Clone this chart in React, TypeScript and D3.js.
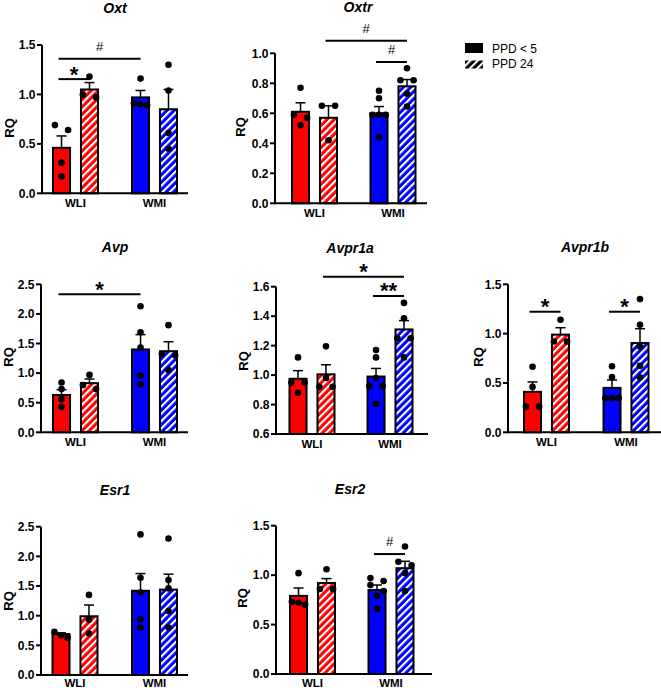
import React from "react";
import * as d3 from "d3";

// ---------- DATA ----------
const groups = ["WLI", "WMI"];
const conditions = ["PPD < 5", "PPD 24"];

// bar order: WLI PPD<5, WLI PPD24, WMI PPD<5, WMI PPD24
const oxtMeans = [0.46, 1.05, 0.97, 0.85];
const oxtSem = [0.12, 0.07, 0.07, 0.2];
const oxtPoints = [[0.69, 0.64, 0.31, 0.17], [1.18, 1.0, 0.97], [1.16, 0.9, 0.89, 0.91], [1.3, 1.04, 0.61, 0.45]];

const oxtrMeans = [0.61, 0.57, 0.6, 0.78];
const oxtrSem = [0.06, 0.08, 0.045, 0.045];
const oxtrPoints = [[0.77, 0.59, 0.57, 0.52], [0.65, 0.65, 0.42], [0.75, 0.7, 0.59, 0.59, 0.59, 0.44], [0.9, 0.82, 0.82, 0.73, 0.645]];

const avpMeans = [0.63, 0.83, 1.4, 1.37];
const avpSem = [0.09, 0.07, 0.25, 0.16];
const avpPoints = [[0.84, 0.73, 0.56, 0.43], [0.97, 0.8, 0.73], [2.13, 1.69, 1.43, 0.96, 0.81], [1.81, 1.32, 1.3, 1.05]];

const avpr1aMeans = [0.975, 1.005, 0.99, 1.31];
const avpr1aSem = [0.055, 0.065, 0.055, 0.06];
const avpr1aPoints = [[1.12, 0.95, 0.95, 0.88], [1.195, 0.98, 0.92, 0.92], [1.17, 1.12, 0.98, 0.925, 0.925, 0.805], [1.49, 1.385, 1.25, 1.25, 1.12]];

const avpr1bMeans = [0.41, 0.99, 0.45, 0.905];
const avpr1bSem = [0.1, 0.07, 0.08, 0.145];
const avpr1bPoints = [[0.665, 0.46, 0.26, 0.26], [1.14, 0.92, 0.92], [0.67, 0.56, 0.345, 0.345, 0.345], [1.35, 1.09, 0.87, 0.675, 0.555]];

const esr1Means = [0.69, 0.99, 1.42, 1.44];
const esr1Sem = [0.02, 0.19, 0.29, 0.26];
const esr1Points = [[0.73, 0.67, 0.63], [1.35, 0.93, 0.7], [2.37, 1.64, 1.39, 0.94, 0.8], [2.3, 1.6, 1.46, 1.08, 0.8]];

const esr2Means = [0.79, 0.92, 0.85, 1.07];
const esr2Sem = [0.08, 0.045, 0.05, 0.07];
const esr2Points = [[1.02, 0.73, 0.72, 0.7], [1.06, 0.86, 0.86], [0.97, 0.94, 0.9, 0.84, 0.79, 0.66], [1.29, 1.135, 1.1, 1.02, 0.84]];

// significance brackets: from bar index, to bar index, height (RQ), label
const oxtSig = [{ from: 0, to: 2, y: 1.36, label: "#" }, { from: 0, to: 1, y: 1.155, label: "*" }];
const oxtrSig = [{ from: 1, to: 3, y: 1.084, label: "#" }, { from: 2, to: 3, y: 0.942, label: "#" }];
const avpSig = [{ from: 0, to: 2, y: 2.33, label: "*" }];
const avpr1aSig = [{ from: 1, to: 3, y: 1.668, label: "*" }, { from: 2, to: 3, y: 1.537, label: "**" }];
const avpr1bSig = [{ from: 0, to: 1, y: 1.222, label: "*" }, { from: 2, to: 3, y: 1.222, label: "*" }];
const esr1Sig: { from: number; to: number; y: number; label: string }[] = [];
const esr2Sig = [{ from: 2, to: 3, y: 1.213, label: "#" }];

const oxtDomain = [0, 1.5], oxtStep = 0.5;
const oxtrDomain = [0, 1.0], oxtrStep = 0.2;
const avpDomain = [0, 2.5], avpStep = 0.5;
const avpr1aDomain = [0.6, 1.6], avpr1aStep = 0.2;
const avpr1bDomain = [0, 1.5], avpr1bStep = 0.5;
const esr1Domain = [0, 2.5], esr1Step = 0.5;
const esr2Domain = [0, 1.5], esr2Step = 0.5;

// ---------- LAYOUT ----------
const RED = "#ff0000";
const BLUE = "#0000ff";
const FONT = "'Liberation Sans', Arial, Helvetica, sans-serif";

const panels = [
  { name: "Oxt", means: oxtMeans, sem: oxtSem, points: oxtPoints, sig: oxtSig, domain: oxtDomain, step: oxtStep,
    x0: 42, x1: 188, yB: 193.3, yT: 45, centers: [75.5, 154.5], title: [115, 13.3], rq: [9, 128] },
  { name: "Oxtr", means: oxtrMeans, sem: oxtrSem, points: oxtrPoints, sig: oxtrSig, domain: oxtrDomain, step: oxtrStep,
    x0: 275, x1: 427, yB: 203.3, yT: 53.3, centers: [314.5, 393], title: [358, 11.7], rq: [240, 127] },
  { name: "Avp", means: avpMeans, sem: avpSem, points: avpPoints, sig: avpSig, domain: avpDomain, step: avpStep,
    x0: 41, x1: 188, yB: 432.3, yT: 284.3, centers: [75.5, 154.5], title: [115, 252], rq: [8, 357] },
  { name: "Avpr1a", means: avpr1aMeans, sem: avpr1aSem, points: avpr1aPoints, sig: avpr1aSig, domain: avpr1aDomain, step: avpr1aStep,
    x0: 276, x1: 428, yB: 434, yT: 286.7, centers: [312, 390], title: [350, 253], rq: [243, 361] },
  { name: "Avpr1b", means: avpr1bMeans, sem: avpr1bSem, points: avpr1bPoints, sig: avpr1bSig, domain: avpr1bDomain, step: avpr1bStep,
    x0: 508, x1: 661, yB: 432.3, yT: 284.3, centers: [546.5, 626], title: [585, 252], rq: [478, 357] },
  { name: "Esr1", means: esr1Means, sem: esr1Sem, points: esr1Points, sig: esr1Sig, domain: esr1Domain, step: esr1Step,
    x0: 41, x1: 188, yB: 675, yT: 526.7, centers: [75, 154.5], title: [115, 495], rq: [8, 601] },
  { name: "Esr2", means: esr2Means, sem: esr2Sem, points: esr2Points, sig: esr2Sig, domain: esr2Domain, step: esr2Step,
    x0: 276, x1: 432, yB: 674, yT: 525.7, centers: [312.5, 391], title: [350, 494], rq: [242, 598] },
];

function swarm(values: number[], y: (v: number) => number) {
  const sorted = values.slice().sort((a, b) => b - a);
  const rows: { py0: number; vals: number[] }[] = [];
  sorted.forEach((v) => {
    const py = y(v);
    const last = rows[rows.length - 1];
    if (last && Math.abs(py - last.py0) < 6) last.vals.push(v);
    else rows.push({ py0: py, vals: [v] });
  });
  const out: { v: number; dx: number }[] = [];
  const s = 6.6;
  rows.forEach((r) => {
    const n = r.vals.length;
    r.vals.forEach((v, i) => {
      let dx = 0;
      if (n === 2) dx = i === 0 ? -s : s;
      else if (n > 2) dx = (i - (n - 1) / 2) * s;
      out.push({ v, dx });
    });
  });
  return out;
}

function Panel({ p }: { p: any }) {
  const y = d3.scaleLinear().domain(p.domain).range([p.yB, p.yT]);
  const gx = d3.scalePoint<string>().domain(groups).range(p.centers);
  const inner = d3.scaleBand<string>().domain(conditions).range([-23.5, 23.5]).paddingInner(0.32);
  const bw = inner.bandwidth();
  const ticks = d3.range(p.domain[0], p.domain[1] + p.step / 2, p.step);
  const fmt = d3.format(".1f");
  const bars = p.means.map((m: number, i: number) => {
    const g = groups[Math.floor(i / 2)];
    const c = conditions[i % 2];
    const left = (gx(g) as number) + (inner(c) as number);
    return { m, i, g, c, left, cx: left + bw / 2, color: g === "WLI" ? RED : BLUE, hatched: c === "PPD 24" };
  });
  const labelY = Math.min(p.yB + 13.5, 686.5);
  return (
    <g>
      <text x={p.title[0]} y={p.title[1]} textAnchor="middle" fontFamily={FONT} fontWeight="bold" fontStyle="italic" fontSize={14}>
        {p.name}
      </text>
      <text transform={`translate(${p.rq[0]},${p.rq[1]}) rotate(-90)`} textAnchor="middle" dominantBaseline="central"
        fontFamily={FONT} fontWeight="bold" fontSize={13}>RQ</text>
      {bars.map((b: any) => (
        <rect key={"b" + b.i} x={b.left + 1} y={y(b.m)} width={bw - 2} height={p.yB - y(b.m)}
          fill={b.hatched ? `url(#hatch-${b.g})` : b.color} stroke="#000" strokeWidth={2} />
      ))}
      {bars.map((b: any) => {
        const top = y(b.m + p.sem[b.i]);
        return (
          <g key={"e" + b.i} stroke="#000" strokeWidth={1.5}>
            <line x1={b.cx} x2={b.cx} y1={y(b.m)} y2={top} />
            <line x1={b.cx - 5} x2={b.cx + 5} y1={top} y2={top} />
          </g>
        );
      })}
      {bars.map((b: any) =>
        swarm(p.points[b.i], y).map((pt, j) => (
          <circle key={"p" + b.i + "-" + j} cx={b.cx + pt.dx} cy={y(pt.v)} r={3.3} fill="#000" />
        ))
      )}
      {/* axes */}
      <line x1={p.x0} x2={p.x0} y1={p.yT} y2={p.yB} stroke="#000" strokeWidth={2} />
      <line x1={p.x0 - 1} x2={p.x1} y1={p.yB} y2={p.yB} stroke="#000" strokeWidth={2} />
      {ticks.map((t: number) => (
        <g key={"t" + t}>
          <line x1={p.x0 - 5} x2={p.x0} y1={y(t)} y2={y(t)} stroke="#000" strokeWidth={2} />
          <text x={p.x0 - 6.5} y={y(t)} dy="0.36em" textAnchor="end" fontFamily={FONT} fontWeight="bold" fontSize={12}>
            {fmt(t)}
          </text>
        </g>
      ))}
      {groups.map((g) => (
        <text key={g} x={gx(g)} y={labelY} textAnchor="middle" fontFamily={FONT} fontWeight="bold" fontSize={11.5}>
          {g}
        </text>
      ))}
      {p.sig.map((s: any, k: number) => {
        const xa = bars[s.from].cx - 3;
        const xb = bars[s.to].cx;
        const ly = y(s.y);
        const isHash = s.label === "#";
        return (
          <g key={"s" + k}>
            <line x1={xa} x2={xb} y1={ly} y2={ly} stroke="#000" strokeWidth={2} />
            <text x={(xa + xb) / 2} y={isHash ? ly - 7.8 : ly + 2.4} textAnchor="middle" fontFamily={FONT}
              fontWeight={isHash ? "normal" : "bold"} fontSize={isHash ? 13 : 22}>
              {s.label}
            </text>
          </g>
        );
      })}
    </g>
  );
}

export default function App() {
  return (
    <svg width={661} height={688} style={{ position: "absolute", left: 0, top: 0, background: "#fff" }}>
      <defs>
        <pattern id="hatch-WLI" patternUnits="userSpaceOnUse" width={5.2} height={5.2} patternTransform="rotate(45)">
          <rect width={5.2} height={5.2} fill={RED} />
          <rect width={2.1} height={5.2} fill="#fff" />
        </pattern>
        <pattern id="hatch-WMI" patternUnits="userSpaceOnUse" width={5.2} height={5.2} patternTransform="rotate(45)">
          <rect width={5.2} height={5.2} fill={BLUE} />
          <rect width={2.1} height={5.2} fill="#fff" />
        </pattern>
        <pattern id="hatch-legend" patternUnits="userSpaceOnUse" width={5.2} height={5.2} patternTransform="rotate(45)">
          <rect width={5.2} height={5.2} fill="#000" />
          <rect width={2.1} height={5.2} fill="#fff" />
        </pattern>
      </defs>
      <rect width={661} height={688} fill="#fff" />
      {panels.map((p) => (
        <Panel key={p.name} p={p} />
      ))}
      {/* legend */}
      <g fontFamily={FONT} fontSize={12}>
        {conditions.map((c, i) => (
          <g key={c}>
            <rect x={465} y={i === 0 ? 43 : 60.5} width={18} height={i === 0 ? 10 : 8}
              fill={i === 0 ? "#000" : "url(#hatch-legend)"} />
            <text x={492} y={i === 0 ? 53 : 68}>{c}</text>
          </g>
        ))}
      </g>
    </svg>
  );
}
